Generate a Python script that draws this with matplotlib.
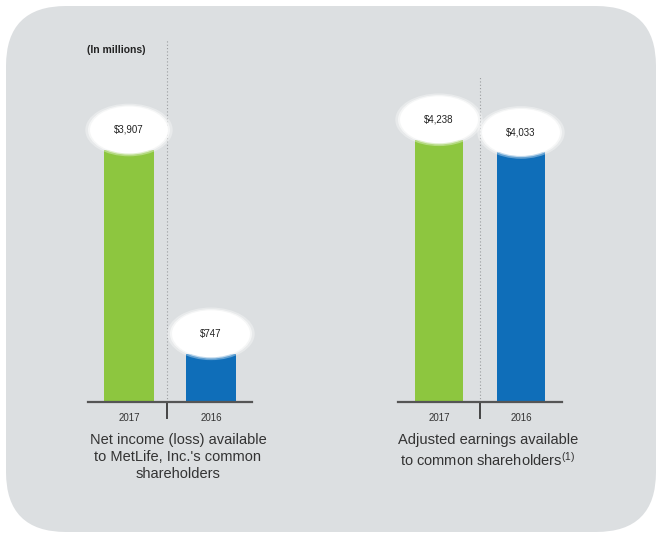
import matplotlib
matplotlib.use("Agg")
import matplotlib.pyplot as plt
from matplotlib.patches import Ellipse, FancyBboxPatch
from matplotlib.transforms import ScaledTranslation

plt.rcParams['font.family'] = ['Liberation Sans', 'DejaVu Sans']
plt.rcParams['mathtext.default'] = 'regular'

years = ["2017", "2016"]
net_income = [3907, 747]
adjusted_earnings = [4238, 4033]
panel_titles = ["Net income (loss) available\nto MetLife, Inc.'s common\nshareholders",
                "Adjusted earnings available\nto common shareholders$^{(1)}$"]

green = "#8dc63f"
blue = "#0f6eb9"
panel_bg = "#dcdfe1"
text_col = "#333333"

fig = plt.figure(figsize=(6.62, 5.38), dpi=100)
W, H = 662, 538

# rounded grey card behind everything
card = FancyBboxPatch((0.06, 0.06), 6.50, 5.26,
                      boxstyle="round,pad=0,rounding_size=0.6",
                      transform=fig.dpi_scale_trans,
                      fc=panel_bg, ec="none", zorder=-5)
fig.patches.append(card)


def px_axes(x0, y_top, w, y_base):
    return fig.add_axes([x0 / W, (H - y_base) / H, w / W, (y_base - y_top) / H])


def draw_panel(ax, values, ymax, div_x, div_top, bar_w):
    ax.set_facecolor("none")
    ax.bar([0, 1], values, width=bar_w, color=[green, blue], zorder=2)
    ax.set_xlim(-0.5, 1.5)
    ax.set_ylim(0, ymax)
    for s in ("top", "right", "left"):
        ax.spines[s].set_visible(False)
    ax.spines["bottom"].set_color("#555555")
    ax.spines["bottom"].set_linewidth(1.6)
    ax.set_yticks([])
    ax.set_xticks([0, 1])
    ax.set_xticklabels(years, fontsize=7, color=text_col)
    ax.tick_params(axis="x", length=0, pad=8)

    # dotted divider between the two years, plus a short tick under the axis
    ax.axvline(div_x, ymin=0, ymax=div_top, color="#9a9c9e", lw=0.8,
               ls=(0, (1, 2)), zorder=1)
    ax.plot([div_x, div_x], [0, -0.045], transform=ax.get_xaxis_transform(),
            color="#444444", lw=1.4, clip_on=False)

    # white value bubbles sitting on the bar tops
    for i, v in enumerate(values):
        tr = fig.dpi_scale_trans + ScaledTranslation(i, v, ax.transData)
        for k, a in ((1.12, 0.35), (1.05, 0.6), (1.0, 1.0)):
            ax.add_patch(Ellipse((0, 0.2), 0.78 * k, 0.47 * k, transform=tr,
                                 fc="white", ec="none", alpha=a, zorder=3,
                                 clip_on=False))
        ax.text(0, 0.2, "${:,}".format(v), transform=tr, ha="center",
                va="center", fontsize=7, color="#222222", zorder=4)


ax1 = px_axes(88, 40, 164, 402)
draw_panel(ax1, net_income, 5612, 0.46, 1.0, 0.6)

ax2 = px_axes(398, 40, 164, 402)
draw_panel(ax2, adjusted_earnings, 5850, 0.5, 0.9, 0.58)

fig.text(87 / W, 1 - 50 / H, "(In millions)", fontsize=7.5, fontweight="bold",
         color="#222222", ha="left", va="center")

fig.text(178 / W, 1 - 433 / H, panel_titles[0], fontsize=10.5, color=text_col,
         ha="center", va="top", linespacing=1.25)
fig.text(488 / W, 1 - 433 / H, panel_titles[1], fontsize=10.5, color=text_col,
         ha="center", va="top", linespacing=1.25)

fig.savefig("out.png", dpi=100, facecolor="white")
